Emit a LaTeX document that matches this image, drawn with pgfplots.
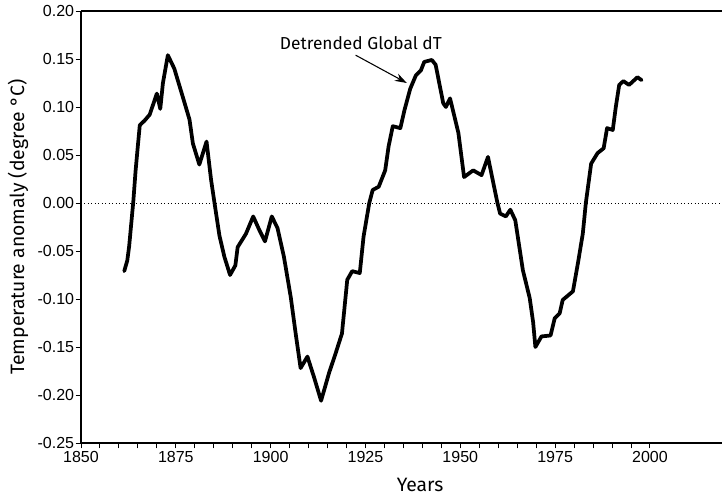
\documentclass[border=0pt]{standalone}
\usepackage{pgfplots}
\pgfplotsset{compat=1.18}
\usepackage{fontspec}
\setmainfont{Liberation Sans}
\newfontfamily\labelfont{Fira Sans}
\usetikzlibrary{arrows.meta,calc}

\begin{document}
\begin{tikzpicture}
\begin{axis}[
    scale only axis,
    width=480.75pt, height=324pt,
    xmin=1850, xmax=2019,
    ymin=-0.25, ymax=0.20,
    axis x line*=bottom,
    axis y line*=left,
    axis line style={line width=0.8pt, -},
    xtick={1850,1875,1900,1925,1950,1975,2000},
    minor x tick num=4,
    ytick={-0.25,-0.20,...,0.21},
    tick align=outside,
    major tick length=4pt,
    minor tick length=4pt,
    tick style={line width=0.7pt, black},
    xticklabel style={/pgf/number format/1000 sep=, font=\fontsize{12}{14}\selectfont, inner sep=1pt, yshift=-1pt},
    yticklabel style={/pgf/number format/.cd, fixed, fixed zerofill, precision=2, /tikz/.cd, font=\fontsize{12}{14}\selectfont, inner sep=1pt},
    /pgf/number format/assume math mode=true,
    xlabel={Years},
    ylabel={Temperature anomaly (degree °C)},
    every axis x label/.style={at={(rel axis cs:0.529,0)}, yshift=-31.5pt, anchor=center, font=\labelfont\fontsize{14.5}{16}\selectfont},
    every axis y label/.style={at={(rel axis cs:0,0.5)}, xshift=-47.25pt, rotate=90, anchor=center, font=\labelfont\fontsize{14.5}{16}\selectfont},
    clip=false,
]
\coordinate (ll) at (rel axis cs:0,0);
\coordinate (ur) at (rel axis cs:1,1);
\draw[line width=0.8pt] (rel axis cs:0,1) -- (rel axis cs:1,1);
\draw[dotted, line width=0.6pt] (axis cs:1850,0) -- (axis cs:2019,0);

\addplot[black, line width=2.8pt, line join=round, line cap=round] coordinates {
(1861.4,-0.071) (1862.2,-0.060) (1862.7,-0.045) (1863.4,-0.015) (1863.8,0.002)
(1864.4,0.034) (1865.0,0.060) (1865.5,0.081) (1866.8,0.086) (1868.1,0.092)
(1869.4,0.107) (1870.0,0.114) (1870.9,0.098) (1871.6,0.125) (1872.9,0.154)
(1874.6,0.140) (1876.8,0.111) (1878.6,0.087) (1879.5,0.062) (1881.2,0.040)
(1883.1,0.064) (1884.3,0.024) (1885.2,0.0) (1886.5,-0.034) (1887.8,-0.056)
(1889.3,-0.075) (1890.7,-0.065) (1891.3,-0.046) (1893.5,-0.032) (1895.4,-0.014)
(1897.0,-0.028) (1898.5,-0.040) (1900.3,-0.014) (1901.8,-0.026) (1903.5,-0.056)
(1905.3,-0.098) (1906.6,-0.136) (1907.9,-0.172) (1909.7,-0.160) (1911.4,-0.181)
(1913.3,-0.206) (1915.4,-0.177) (1917.1,-0.157) (1918.8,-0.136) (1920.2,-0.080)
(1921.5,-0.071) (1923.5,-0.073) (1924.5,-0.035) (1926.0,0.0) (1926.9,0.0135)
(1928.5,0.017) (1930.2,0.034) (1931.1,0.059) (1932.2,0.080) (1934.2,0.078)
(1935.3,0.097) (1936.8,0.119) (1938.3,0.133) (1939.6,0.138) (1940.5,0.147)
(1942.5,0.149) (1943.5,0.144) (1945.5,0.104) (1946.2,0.100) (1947.3,0.109)
(1949.5,0.073) (1951.0,0.027) (1953.4,0.034) (1955.6,0.029) (1957.3,0.048)
(1958.7,0.021) (1959.8,0.0) (1960.5,-0.011) (1962.0,-0.014) (1963.2,-0.007)
(1964.5,-0.018) (1966.5,-0.070) (1968.3,-0.099) (1969.2,-0.124) (1969.8,-0.150)
(1971.4,-0.139) (1973.8,-0.138) (1974.9,-0.120) (1976.2,-0.115) (1977.0,-0.101)
(1979.7,-0.092) (1981.0,-0.063) (1982.3,-0.032) (1983.1,0.0) (1984.5,0.041)
(1986.2,0.052) (1987.8,0.057) (1988.7,0.078) (1990.2,0.076) (1991.0,0.100)
(1991.9,0.123) (1993.0,0.127) (1994.5,0.123) (1996.7,0.131) (1997.8,0.128)
};

\node[font=\labelfont\fontsize{13}{15}\selectfont, anchor=center] at (axis cs:1923.8,0.1667) {Detrended Global dT};
\draw[-{Stealth[length=9pt,width=6pt]}, line width=0.8pt] (axis cs:1922.4,0.154) -- (axis cs:1935.9,0.125);
\end{axis}
\pgfresetboundingbox
\path ($(ll)+(-60.75pt,-41.25pt)$) rectangle ($(ur)+(0pt,8.25pt)$);
\end{tikzpicture}
\end{document}
